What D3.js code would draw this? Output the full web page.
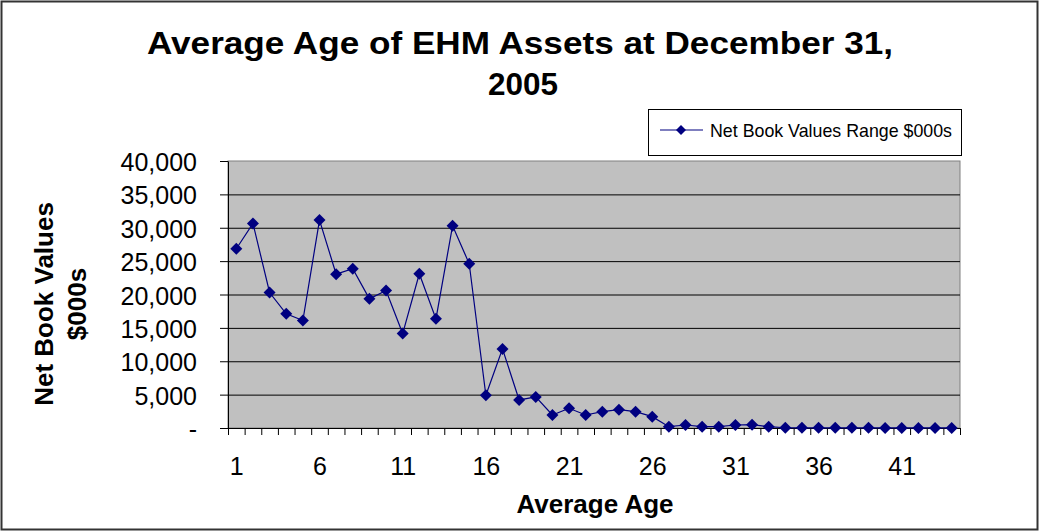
<!DOCTYPE html>
<html>
<head>
<meta charset="utf-8">
<script src="https://cdn.jsdelivr.net/npm/d3@7"></script>
<style>
  html, body { margin: 0; padding: 0; background: #fff; }
  svg { display: block; font-family: "Liberation Sans", Arial, sans-serif; }
</style>
</head>
<body>
<svg id="chart" width="1039" height="531"></svg>
<script>
// Average age (years) of EHM assets
const ages = [1, 2, 3, 4, 5, 6, 7, 8, 9, 10, 11, 12, 13, 14, 15, 16, 17, 18, 19, 20, 21, 22,
              23, 24, 25, 26, 27, 28, 29, 30, 31, 32, 33, 34, 35, 36, 37, 38, 39, 40, 41, 42, 43, 44];

// Net book values, $000s
const netBookValues = [26850, 30650, 20300, 17100, 16100, 31150, 23050, 23850, 19350, 20600, 14150,
                       23100, 16350, 30300, 24600, 4900, 11850, 4200, 4650, 1950, 2950, 1950,
                       2450, 2750, 2450, 1700, 200, 450, 200, 200, 450, 500, 200, 40,
                       30, 30, 20, 20, 20, 15, 10, 10, 10, 5];

const yTickValues = [0, 5000, 10000, 15000, 20000, 25000, 30000, 35000, 40000];
const yTickLabels = ["-", "5,000", "10,000", "15,000", "20,000", "25,000", "30,000", "35,000", "40,000"];
const xLabelValues = [1, 6, 11, 16, 21, 26, 31, 36, 41];

const titleLines = ["Average Age of EHM Assets at December 31,", "2005"];
const yTitleLines = ["Net Book Values", "$000s"];
const xTitle = "Average Age";
const seriesName = "Net Book Values Range $000s";

const svg = d3.select("#chart");
const plot = { left: 228, right: 960, top: 161, bottom: 428 };
const navy = "#000080";

// Outer chart frame
svg.append("rect")
  .attr("x", 1.5).attr("y", 1.5).attr("width", 1036).attr("height", 528)
  .attr("fill", "#fff").attr("stroke", "#333").attr("stroke-width", 2);

// Scales: each age occupies one category slot on the x axis
const x = d3.scaleLinear().domain([0.5, ages.length + 0.5]).range([plot.left, plot.right]);
const y = d3.scaleLinear().domain([0, 40000]).range([plot.bottom, plot.top]);

// Plot area background
svg.append("rect")
  .attr("x", plot.left).attr("y", plot.top)
  .attr("width", plot.right - plot.left).attr("height", plot.bottom - plot.top)
  .attr("fill", "#c0c0c0").attr("stroke", "#808080").attr("stroke-width", 1);

// Horizontal gridlines
const grid = svg.append("g").attr("transform", `translate(${plot.left},0)`)
  .call(d3.axisLeft(y).tickValues(yTickValues.slice(1, -1)).tickSize(-(plot.right - plot.left)).tickFormat(""));
grid.select(".domain").remove();
grid.selectAll("line").attr("stroke", "#000").attr("stroke-width", 1);

// Y axis
const yAxis = svg.append("g").attr("transform", `translate(${plot.left},0)`)
  .call(d3.axisLeft(y).tickValues(yTickValues).tickSize(8).tickPadding(23)
    .tickFormat((d, i) => yTickLabels[i]).tickSizeOuter(0));
yAxis.selectAll("line").attr("stroke", "#000");
yAxis.select(".domain").attr("stroke", "#000");
yAxis.selectAll("text")
  .attr("font-size", 25).attr("font-family", "Liberation Sans, Arial, sans-serif")
  .attr("fill", "#000").attr("dy", "0.38em");

// X axis: tick marks between categories
const boundaries = ages.map(a => a - 0.5).concat([ages.length + 0.5]);
const xAxis = svg.append("g").attr("transform", `translate(0,${plot.bottom})`)
  .call(d3.axisBottom(x).tickValues(boundaries).tickSize(7).tickFormat("").tickSizeOuter(0));
xAxis.selectAll("line").attr("stroke", "#000");
xAxis.select(".domain").attr("stroke", "#000");

// X axis labels centred on their categories
const xLabels = svg.append("g").attr("transform", `translate(0,${plot.bottom})`)
  .call(d3.axisBottom(x).tickValues(xLabelValues).tickSize(0).tickPadding(29).tickFormat(d3.format("d")));
xLabels.select(".domain").remove();
xLabels.selectAll("text")
  .attr("font-size", 25).attr("font-family", "Liberation Sans, Arial, sans-serif").attr("fill", "#000");

// Series line and diamond markers
const line = d3.line().x((d, i) => x(ages[i])).y(d => y(d));
svg.append("path")
  .datum(netBookValues)
  .attr("d", line)
  .attr("fill", "none").attr("stroke", navy).attr("stroke-width", 1.2);

svg.append("g").selectAll("path")
  .data(netBookValues)
  .join("path")
  .attr("transform", (d, i) => `translate(${x(ages[i])},${y(d)}) rotate(45)`)
  .attr("d", d3.symbol().type(d3.symbolSquare).size(72))
  .attr("fill", navy);

// Title
svg.append("text")
  .attr("x", 147).attr("y", 54)
  .attr("font-size", 32).attr("font-weight", "bold")
  .attr("textLength", 746).attr("lengthAdjust", "spacingAndGlyphs")
  .text(titleLines[0]);
svg.append("text")
  .attr("x", 488).attr("y", 95)
  .attr("font-size", 32).attr("font-weight", "bold")
  .attr("textLength", 70).attr("lengthAdjust", "spacingAndGlyphs")
  .text(titleLines[1]);

// Axis titles
svg.append("text")
  .attr("transform", "translate(53,304) rotate(-90)")
  .attr("text-anchor", "middle").attr("font-size", 26).attr("font-weight", "bold")
  .text(yTitleLines[0]);
svg.append("text")
  .attr("transform", "translate(86,304) rotate(-90)")
  .attr("text-anchor", "middle").attr("font-size", 26).attr("font-weight", "bold")
  .text(yTitleLines[1]);
svg.append("text")
  .attr("x", 595).attr("y", 513).attr("text-anchor", "middle")
  .attr("font-size", 26).attr("font-weight", "bold")
  .text(xTitle);

// Legend
const legend = svg.append("g");
legend.append("rect")
  .attr("x", 648.5).attr("y", 109.5).attr("width", 313).attr("height", 46)
  .attr("fill", "#fff").attr("stroke", "#000").attr("stroke-width", 1);
legend.append("line")
  .attr("x1", 660).attr("x2", 703).attr("y1", 130).attr("y2", 130)
  .attr("stroke", navy).attr("stroke-width", 1.2);
legend.append("path")
  .attr("transform", "translate(681,130) rotate(45)")
  .attr("d", d3.symbol().type(d3.symbolSquare).size(50))
  .attr("fill", navy);
legend.append("text")
  .attr("x", 710).attr("y", 137)
  .attr("font-size", 19).attr("textLength", 242).attr("lengthAdjust", "spacingAndGlyphs")
  .text(seriesName);
</script>
</body>
</html>
